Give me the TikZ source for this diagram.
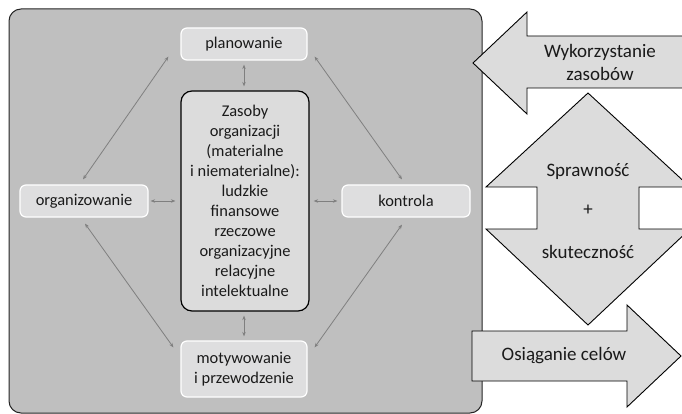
\documentclass[tikz,border=0pt]{standalone}
\usepackage{fontspec}
\setmainfont{Carlito}
\usetikzlibrary{arrows.meta,calc}
\definecolor{bggray}{HTML}{BFBFBF}
\definecolor{boxgray}{HTML}{DEDEDF}
\definecolor{shapegray}{HTML}{DCDCDC}
\definecolor{linkgray}{HTML}{7F7F7F}
\definecolor{txt}{HTML}{1A1A1A}
\begin{document}
\begin{tikzpicture}[x=1pt,y=-1pt,
  every node/.style={text=txt},
  func/.style={draw=white,line width=1.2pt,fill=boxgray,rounded corners=6pt,
    minimum width=126pt,inner sep=0pt,align=center,
    font=\fontsize{16.4}{20.5}\selectfont},
  core/.style={draw=black,line width=1.2pt,fill=shapegray,rounded corners=11pt,
    minimum width=128pt,minimum height=220pt,inner sep=0pt,align=center,
    font=\fontsize{16.4}{20}\selectfont},
  bigarrow/.style={draw=black,line width=0.9pt,fill=shapegray},
  bigtext/.style={align=center,font=\fontsize{19}{23}\selectfont},
  link/.style={draw=linkgray,line width=0.8pt,{Stealth[length=4.5pt,width=3.5pt]}-{Stealth[length=4.5pt,width=3.5pt]}}
]
\clip (0,0) rectangle (682,414);
\fill[white] (0,0) rectangle (682,414);
% background panel
\draw[draw=black!85,line width=1pt,fill=bggray,rounded corners=12pt] (9,9) rectangle (482,413);

% function boxes
\node[func,minimum height=32pt] (plan) at (244,44) {planowanie};
\node[func,minimum width=128pt,minimum height=32pt] (org) at (84,201) {organizowanie};
\node[func,minimum width=128pt,minimum height=32pt] (kon) at (406,201) {kontrola};
\node[func,minimum height=56pt] (mot) at (244,369) {motywowanie\\i przewodzenie};
\node[core] (res) at (245,201) {Zasoby\\organizacji\\(materialne\\i niematerialne):\\ludzkie\\finansowe\\rzeczowe\\organizacyjne\\relacyjne\\intelektualne};

% connectors
\draw[link,shorten <=4pt,shorten >=4pt] (plan.south) -- (plan.south |- res.north);
\draw[link,shorten <=4pt,shorten >=4pt] (mot.north |- res.south) -- (mot.north);
\draw[link,shorten <=2pt,shorten >=5pt] (org.east) -- (res.west);
\draw[link,shorten <=4pt,shorten >=4pt] (res.east) -- (kon.west);
\draw[link] ($(plan.south west)+(-12,-4)$) -- ($(org.north)+(-1,-5)$);
\draw[link] ($(plan.south east)+(7,-4)$) -- ($(kon.north)+(-4,-5)$);
\draw[link] ($(org.south)+(1,6)$) -- ($(mot.north west)+(-7,7)$);
\draw[link] ($(kon.south)+(-4,7)$) -- ($(mot.north east)+(7,7)$);

% right-hand shapes
\draw[bigarrow] (473,63) -- (527,12) -- (527,36) -- (685,36) -- (685,88) -- (527,88) -- (527,114) -- cycle;
\node[bigtext] (use) at (600,62) {Wykorzystanie\\zasobów};

\draw[bigarrow] (588,93) -- (690,187) -- (639,187) -- (639,229) -- (690,229) -- (588,325)
  -- (486,229) -- (537,229) -- (537,187) -- (486,187) -- cycle;
\node[bigtext] (spr) at (588,172) {Sprawność};
\node[bigtext] (plus) at (588,210) {+};
\node[bigtext] (sku) at (588,252) {skuteczność};

\draw[bigarrow] (472,331) -- (627,331) -- (627,305) -- (681,356) -- (627,407) -- (627,381) -- (472,381) -- cycle;
\node[bigtext] (osi) at (564,356) {Osiąganie celów};
\end{tikzpicture}
\end{document}
